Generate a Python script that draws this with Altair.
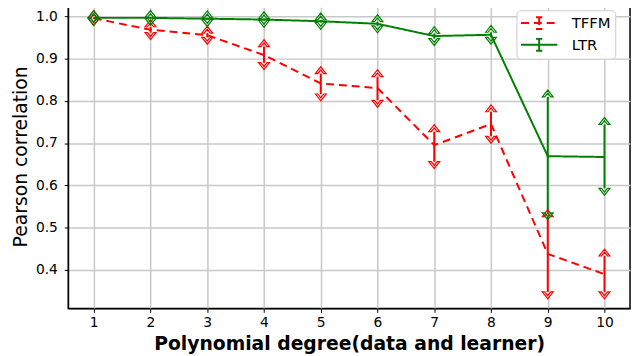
import altair as alt
import pandas as pd

degrees = [1, 2, 3, 4, 5, 6, 7, 8, 9, 10]

tffm_mean = [0.995, 0.968, 0.955, 0.908, 0.841, 0.830, 0.695, 0.745, 0.438, 0.390]
tffm_lo   = [0.994, 0.961, 0.950, 0.890, 0.816, 0.801, 0.656, 0.716, 0.348, 0.348]
tffm_hi   = [0.996, 0.975, 0.960, 0.928, 0.864, 0.857, 0.727, 0.774, 0.526, 0.433]

ltr_mean = [0.996, 0.996, 0.994, 0.992, 0.988, 0.982, 0.953, 0.956, 0.669, 0.667]
ltr_lo   = [0.995, 0.995, 0.992, 0.990, 0.985, 0.977, 0.947, 0.950, 0.535, 0.593]
ltr_hi   = [0.997, 0.997, 0.996, 0.994, 0.991, 0.987, 0.959, 0.962, 0.809, 0.744]

series_names = ["TFFM", "LTR"]
colors = ["#ff0000", "#008000"]

rows = []
for name, m, lo, hi in [("TFFM", tffm_mean, tffm_lo, tffm_hi), ("LTR", ltr_mean, ltr_lo, ltr_hi)]:
    for d, a, b, c in zip(degrees, m, lo, hi):
        rows.append({"degree": d, "series": name, "mean": a, "lo": b, "hi": c})
df = pd.DataFrame(rows)

x = alt.X("degree:Q", scale=alt.Scale(domain=[0.55, 10.45], nice=False, zero=False),
          axis=alt.Axis(values=degrees, format="d", title="Polynomial degree(data and learner)",
                        titleFontWeight="bold", titleFontSize=19, titlePadding=6,
                        labelFontSize=14, labelPadding=3, tickSize=4,
                        gridColor="#c8c8c8", gridWidth=1.5))
yscale = alt.Scale(domain=[0.309, 1.028], nice=False, zero=False)
y = alt.Y("mean:Q", scale=yscale,
          axis=alt.Axis(values=[0.4, 0.5, 0.6, 0.7, 0.8, 0.9, 1.0], format=".1f",
                        title="Pearson correlation", titleFontWeight="normal", titleFontSize=19,
                        titlePadding=5, labelFontSize=14, labelPadding=7, tickSize=4,
                        gridColor="#c8c8c8", gridWidth=1.5))

errbar_symbol = "M-2.3,0H2.3M0,-0.75V0.75M-0.4,-0.75H0.4M-0.4,0.75H0.4"
leg = alt.Legend(title=None, orient="none", legendX=454, legendY=6,
                 symbolType=errbar_symbol, symbolSize=256, symbolStrokeWidth=2,
                 symbolOffset=10, labelOffset=24,
                 labelFontSize=15, fillColor="white", strokeColor="#cccccc",
                 padding=4, cornerRadius=4, rowPadding=2)
color = alt.Color("series:N", scale=alt.Scale(domain=series_names, range=colors), legend=leg)
dash = alt.StrokeDash("series:N", scale=alt.Scale(domain=series_names, range=[[8, 5], [1, 0]]),
                      legend=leg)

up_arrow = "M-1,0L0,-1.27L1,0L0.55,0L0,-0.7L-0.55,0Z"
down_arrow = "M-1,0L0,1.27L1,0L0.55,0L0,0.7L-0.55,0Z"

base = alt.Chart(df)

lines = base.mark_line(strokeWidth=2).encode(x=x, y=y, color=color, strokeDash=dash)

rules = base.mark_rule(strokeWidth=2).encode(
    x=x, y=alt.Y("lo:Q", scale=yscale), y2="hi:Q", color=color)

caps_hi = base.mark_point(shape=up_arrow, filled=False, size=121, strokeWidth=1.2,
                          opacity=1).encode(x=x, y=alt.Y("hi:Q", scale=yscale), color=color)
caps_lo = base.mark_point(shape=down_arrow, filled=False, size=121, strokeWidth=1.2,
                          opacity=1).encode(x=x, y=alt.Y("lo:Q", scale=yscale), color=color)

chart = alt.layer(lines, rules, caps_hi, caps_lo).properties(
    width=569, height=308,
    autosize=alt.AutoSizeParams(type="none"),
    padding={"left": 61, "top": -6, "right": 2, "bottom": 54},
).configure_view(stroke="black", strokeWidth=1.5).configure_axis(
    domainColor="black", tickColor="black", labelColor="black", titleColor="black",
    labelFont="DejaVu Sans", titleFont="DejaVu Sans"
).configure_legend(labelFont="DejaVu Sans")

chart.save("out.html", embed_options={"renderer": "svg", "actions": False})
